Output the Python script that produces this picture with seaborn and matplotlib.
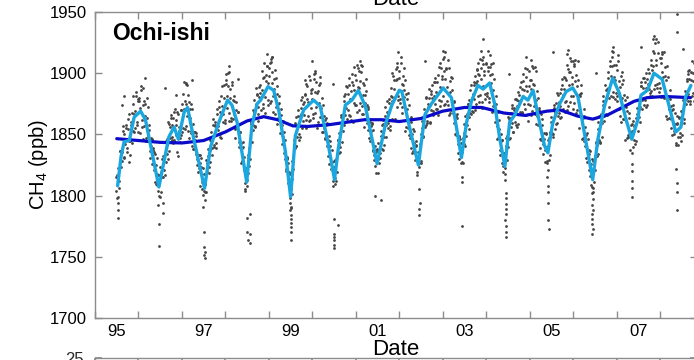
import numpy as np
import pandas as pd
import matplotlib
matplotlib.use("Agg")
import matplotlib.pyplot as plt
import seaborn as sns

sns.set_theme(style="ticks")
plt.rcParams['font.family'] = ['Liberation Sans', 'DejaVu Sans']
plt.rcParams['mathtext.fontset'] = 'custom'
plt.rcParams['mathtext.rm'] = 'Liberation Sans'
plt.rcParams['mathtext.it'] = 'Liberation Sans:italic'

# ---------------- data ----------------
site_name = "Ochi-ishi"
x_label = "Date"
y_label = "CH$_4$ (ppb)"
year_ticks = list(range(1995, 2009))
label_pos = [1995.5, 1997.5, 1999.5, 2001.5, 2003.5, 2005.5, 2007.5]
label_txt = ["95", "97", "99", "01", "03", "05", "07"]
y_ticks = [1700, 1750, 1800, 1850, 1900, 1950]

# seasonal fit (light blue)
fit_t = [1995.52, 1995.60, 1995.67, 1995.79, 1995.90, 1996.05, 1996.16, 1996.28, 1996.47,
         1996.60, 1996.70, 1996.82, 1996.92, 1997.05, 1997.13, 1997.28, 1997.52, 1997.66,
         1997.85, 1998.05, 1998.15, 1998.27, 1998.49, 1998.61, 1998.73, 1998.81, 1998.98,
         1999.11, 1999.23, 1999.38, 1999.50, 1999.61, 1999.80, 2000.03, 2000.18, 2000.34,
         2000.51, 2000.60, 2000.76, 2000.91, 2001.06, 2001.22, 2001.37, 2001.49, 2001.68,
         2001.83, 2002.00, 2002.06, 2002.21, 2002.44, 2002.59, 2002.74, 2003.01, 2003.20,
         2003.32, 2003.43, 2003.55, 2003.66, 2003.81, 2003.93, 2004.08, 2004.20, 2004.31,
         2004.43, 2004.54, 2004.66, 2004.85, 2004.96, 2005.08, 2005.19, 2005.34, 2005.42,
         2005.53, 2005.69, 2005.84, 2005.99, 2006.11, 2006.26, 2006.45, 2006.57, 2006.72,
         2006.91, 2007.06, 2007.22, 2007.35, 2007.49, 2007.56, 2007.71, 2007.86, 2008.05,
         2008.21, 2008.36, 2008.48, 2008.59, 2008.71]
fit_v = [1808, 1832, 1844, 1845, 1864, 1869, 1862, 1841, 1807,
         1830, 1848, 1856, 1846, 1868, 1872, 1845, 1806, 1840,
         1860, 1878, 1874, 1860, 1811, 1857, 1875, 1878, 1889,
         1886, 1869, 1836, 1799, 1849, 1870, 1878, 1873, 1847,
         1813, 1839, 1874, 1878, 1886, 1873, 1847, 1826, 1858,
         1874, 1886, 1885, 1860, 1825, 1866, 1875, 1888, 1880,
         1855, 1831, 1860, 1877, 1890, 1887, 1892, 1874, 1847,
         1824, 1860, 1866, 1881, 1878, 1886, 1866, 1841, 1835,
         1859, 1875, 1885, 1888, 1881, 1851, 1813, 1846, 1873,
         1896, 1884, 1862, 1846, 1862, 1882, 1886, 1900, 1895,
         1873, 1852, 1856, 1881, 1890]

# long-term trend (dark blue)
trend_t = [1995.50, 1996.00, 1996.50, 1997.00, 1997.50, 1998.00, 1998.50, 1998.88, 1999.20,
           1999.55, 1999.90, 2000.40, 2000.80, 2001.20, 2001.60, 2002.00, 2002.50, 2003.00,
           2003.50, 2003.90, 2004.40, 2004.90, 2005.40, 2005.70, 2006.10, 2006.45, 2006.80,
           2007.10, 2007.40, 2007.70, 2008.10, 2008.70]
trend_v = [1846.5, 1845, 1843.5, 1843, 1845, 1852, 1861, 1864.5, 1862,
           1857, 1856.5, 1858, 1860, 1862, 1862, 1860.5, 1863, 1869,
           1872, 1872, 1867.5, 1865.5, 1869, 1870, 1865, 1862.5, 1866,
           1871.5, 1877, 1880, 1881, 1880]

# observations: first/last sample time and residuals from the fit, per year (two samplings)
obs_first, obs_last = 1995.48, 2008.80
obs_years = list(range(1995, 2009))
res_1995 = [-4, 9, -13, 3, 12, -7, 1, 15, -11, 6, -2, 11, -9, 18, 0, -14, 7, 13, -5, 20, -12, 4, 16, -9, 10]
res_1996 = [12, -17, 21, -6, 8, -19, 14, 3, -12, 24, -4, 10, -8, 6, -11, 4, 9, -5, 12, -9, 3,
            -7, 10, -12, 5, -3, 8, -10, 2, 11, -9, 6, -14, 11, -2, 15, -7, 4, -12, 13,
            -10, 6, 19, -15, 9, -4, 16, -8]
res_1997 = [-9, 18, 3, -15, 22, -6, 11, -20, 7, 15, -3, -12, 10, -7, 4, 13, -10, 2, -5, 9, -13,
            6, -9, 12, -4, 1, -11, 8, 14, -6, 3, -12, 10, -5, 16, -9, 7, -14, 12, 0,
            18, -11, 5, -18, 23, -2, 9, -13]
res_1998 = [20, -5, 12, -16, 25, 4, -11, 17, -8, 9, -19, 13, -6, 11, -9, 3, 8, -12, 5, 10, -4,
            -10, 7, -3, 12, -8, 4, -13, 9, 1, -7, 14, -11, 5, 10, -3, -15, 12, 6, -9,
            22, -7, 14, -17, 8, 19, -10, 3]
res_1999 = [16, -12, 24, 5, -18, 10, 20, -7, 13, -15, 4, 9, -11, 8, -4, 12, -9, 6, -13, 3, 10,
            -5, 11, -8, 2, -12, 7, 13, -3, -9, 12, -6, 9, -13, 4, 15, -10, 7, -4, 11,
            -16, 19, 6, -9, 23, -13, 10, 2]
res_2000 = [-14, 21, 7, -9, 17, -20, 11, 2, 24, -6, 13, -11, 5, -10, 9, 14, -6, 3, -12, 7, -2,
            12, -9, 6, -4, 10, -13, 3, 8, -7, -11, 13, 4, -8, 16, -12, 9, -3, 14, -6,
            20, -12, 8, 15, -19, 6, 24, -8]
res_2001 = [11, -16, 19, 3, -8, 25, -13, 14, 6, -19, 9, 16, -7, 10, -12, 5, 1, 11, -8, 13, -4,
            -9, 6, 12, -11, 3, -6, 9, 14, -10, 8, -13, 15, -2, 6, -9, 12, -15, 10, 4,
            -12, 21, 9, -17, 14, 26, -6, 11]
res_2002 = [-10, 23, 6, -15, 18, 10, -20, 14, -4, 22, -9, 7, 12, -10, 4, -6, 13, -2, 8, -11, 5,
            -4, 9, -12, 6, 11, -7, 2, -10, 13, -8, 5, 16, -12, 9, -5, 14, -11, 3, 17,
            -9, 12, -16, 22, 5, -12, 18, 8]
res_2003 = [24, -13, 9, 18, -7, 27, -17, 12, 4, -10, 20, -4, 9, -13, 6, 12, -8, 3, -11, 10, -5,
            -8, 7, 13, -10, 4, -3, 11, -12, 8, -6, 14, -9, 3, 11, -14, 6, 16, -8, 10,
            -13, 23, 7, -16, 26, 11, -9, 19]
res_2004 = [-8, 15, 27, -12, 9, 21, -15, 6, 18, -5, 12, -18, 10, -7, 13, -11, 4, 9, -13, 6, -2,
            11, -8, 5, 14, -11, 3, -6, 9, -12, 7, 13, -10, 4, -15, 12, 8, -7, 16, -11,
            19, -6, 24, -14, 11, 7, -18, 22]
res_2005 = [13, -17, 22, 6, -10, 25, 2, -14, 17, -7, 10, -19, -9, 12, -5, 7, -13, 11, 2, -8, 9,
            -12, 6, 10, -4, -9, 13, 5, -11, 8, 14, -7, 3, -12, 10, 17, -9, 6, -14, 12,
            -8, 21, -13, 15, 26, -6, 9, -17]
res_2006 = [19, -10, 26, -16, 8, 14, -21, 11, 23, -4, -12, 16, -6, 9, -12, 13, -3, 7, -10, 4, 12,
            -7, 10, -13, 3, 8, -9, 14, -5, -11, 9, -14, 12, 5, -8, 15, -11, 7, 18, -6,
            22, -9, 13, -15, 27, 4, -12, 17]
res_2007 = [-11, 24, 9, -17, 18, 3, 27, -8, 14, -20, 10, 21, -9, 13, -4, 8, -12, 5, 11, -7, -13,
            6, 12, -9, 3, -14, 10, 7, -5, 13, -10, 8, 15, -12, 4, 11, -7, 18, -9, 6,
            20, -13, 25, 8, -10, 28, -5, 16]
res_2008 = [12, -15, 23, 5, -9, 19, -18, 26, 3, -11, 15, -6, 8, -13, 11, -4, 14, -9, 6, -12, 10,
            -7, 13, -10, 4, 9, -14, 7, -3, 12, -8, 16, -11, 5, 20, -6, 10, -13]

res2_1995 = [7, -10, 14, -3, -15, 9, 4, -8, 17, -12, 2, 13, -6, 10, -17, 21, -4, 8, -13, 15, 3, -9, 19, -6, 12]
res2_1996 = [-15, 9, 3, 18, -11, 22, -7, 12, -16, 6, 19, -2, 7, -12, 2, 11, -6, 8, -13, 5, 14,
             -4, 8, -9, 11, -13, 4, 9, -6, -14, 10, 3, -8, 14, -12, 6, 12, -5, 9, -10,
             16, -3, 11, -13, 20, 4, -9, 14]
res2_1997 = [15, -8, 26, 9, -13, 4, 19, -16, 11, 2, -7, 17, -12, 5, 9, -6, 12, -3, -10, 7, 4,
             11, -5, -12, 8, 3, -8, 13, -2, 6, -13, 9, 2, -10, 13, -6, 11, 5, -11, 15,
             -5, 12, -14, 17, 7, -8, 21, 1]
res2_1998 = [-12, 16, 4, 23, -9, 11, -14, 19, 6, -3, 14, -10, 8, -4, 13, -11, 6, 2, -8, 12, -6,
             9, -13, 5, -2, 10, -7, 6, 12, -11, 11, -5, 3, -12, 16, 7, -9, 4, 13, -14,
             7, 15, -11, 25, -4, 12, 18, -15]
res2_1999 = [9, 20, -10, 14, 27, -5, 3, -14, 18, 8, -9, 12, -4, 11, -13, 7, 2, 10, -7, -11, 5,
             8, -3, 12, -9, 5, 10, -6, 4, 13, -10, 5, 15, -7, -12, 9, 2, 14, -8, 6,
             12, -10, 17, 3, -13, 20, 8, -5]
res2_2000 = [10, -11, 18, 25, -4, 8, -15, 16, -9, 20, 3, -13, 12, -3, -8, 6, 11, -12, 9, -4, 13,
             -6, 4, -11, 13, -2, 8, -9, 11, 2, 7, -9, 12, -14, 3, 10, -6, 15, -12, 8,
             -10, 14, 2, -16, 21, 11, -5, 17]
res2_2001 = [-9, 23, 4, 16, -14, 11, 20, -6, -11, 15, 2, 24, 6, -11, 10, 3, -9, 7, 12, -5, -10,
             5, -13, 9, 2, 12, -8, -3, 11, -7, 13, -4, 9, -11, 2, 14, -6, 8, -13, 16,
             6, -14, 17, 2, 23, -9, 12, -3]
res2_2002 = [16, -7, 28, -12, 9, 3, 20, -15, 12, 7, -5, 17, -7, 9, -13, 10, 2, -9, 6, 13, -12,
             10, -3, 4, -13, 8, -5, 12, 3, -9, 12, -10, 2, 8, -14, 11, 4, -7, 15, -4,
             13, 4, -11, 16, -5, 24, -8, 11]
res2_2003 = [-6, 14, 31, -11, 19, 5, -9, 22, -14, 16, 8, -2, -10, 12, 3, -7, 11, -13, 6, -2, 9,
             3, -11, 8, -6, 12, -9, 5, 10, -4, 15, -8, 2, -11, 9, -4, 13, -12, 5, 18,
             9, -7, 16, -11, 20, 2, 14, -6]
res2_2004 = [18, -6, 11, -15, 23, 4, 14, -9, 29, -3, -12, 8, -5, 12, 3, -9, 8, -12, 11, -6, 3,
             -9, 14, 2, -7, 9, -13, 6, 12, -4, -12, 5, -6, 11, 8, -13, 4, 14, -9, 9,
             -11, 13, 6, -9, 18, 25, -3, 10]
res2_2005 = [-7, 12, 4, -16, 19, 9, -11, 28, -5, 13, 7, -13, 11, -6, 9, -12, 4, -3, 13, -10, 5,
             8, -10, 3, 12, -6, -12, 9, 2, -8, -9, 12, -5, 9, -3, -13, 11, 2, 15, -7,
             10, -15, 18, 4, -10, 14, 23, 3]
res2_2006 = [-6, 21, 9, 15, -13, 29, 4, -9, 12, 18, -15, 6, 12, -8, 5, -13, 10, 2, -7, 13, -11,
             4, -12, 8, -6, 11, 3, -10, 6, 13, -12, 5, -4, 14, -10, 3, 10, -13, 6, 12,
             -14, 17, 6, 24, -11, 13, 2, -7]
res2_2007 = [14, -6, 29, -13, 8, -18, 16, 22, -7, 12, -3, -14, 11, -6, 10, -13, 3, 12, -9, 6, 4,
             -11, 8, 2, 13, -7, -4, 11, -12, 5, 12, -6, 3, -13, 9, 16, -3, -10, 13, -14,
             8, 17, -9, 29, 12, -7, 19, -12]
res2_2008 = [-8, 17, 6, -13, 27, 10, -5, 13, -16, 21, -2, 9, -12, 6, 13, -8, 3, -11, 12, 5, -6,
             9, -4, -12, 7, 14, -9, 4, -6, 11, 15, -3, 8, -14, 11, -9, 4, 18]

obs_resid = [res_1995, res_1996, res_1997, res_1998, res_1999, res_2000, res_2001,
             res_2002, res_2003, res_2004, res_2005, res_2006, res_2007, res_2008]
obs_resid2 = [res2_1995, res2_1996, res2_1997, res2_1998, res2_1999, res2_2000, res2_2001,
              res2_2002, res2_2003, res2_2004, res2_2005, res2_2006, res2_2007, res2_2008]

# isolated observations far from the fit (read individually)
out_t = [1995.53, 1995.53, 1995.53, 1996.47, 1996.47, 1996.57, 1996.45, 1996.57,
         1997.51, 1997.51, 1997.52, 1997.51, 1997.52, 1997.49, 1997.53,
         1998.50, 1998.50, 1998.51, 1998.56, 1998.56, 1998.56, 1998.46,
         1999.48, 1999.49, 1999.50, 1999.49, 1999.51, 1999.50, 1999.52, 1999.50, 1999.51, 1999.50,
         2000.49, 2000.49, 2000.50, 2000.49, 2000.50, 2000.49, 2000.60, 2001.45, 2001.58,
         2002.46, 2002.47, 2002.45, 2002.46, 2003.44, 2003.45, 2003.44,
         2004.44, 2004.46, 2004.45, 2004.45, 2004.46, 2004.45, 2004.44, 2004.45, 2004.46, 2004.45,
         2005.42, 2005.41, 2005.43, 2005.42, 2005.43, 2005.43, 2005.44,
         2006.44, 2006.43, 2006.45, 2006.44, 2006.45, 2006.44, 2006.43, 2006.44, 2006.45, 2006.44,
         2007.35, 2007.36, 2007.35, 2007.36, 2007.35, 2008.36, 2008.40, 2008.40, 2008.40,
         1995.63, 1995.67, 1996.15, 1996.61, 1996.86, 1997.10, 1997.24, 1998.02, 1998.08, 1998.30,
         1998.96, 1999.05, 1999.07, 1999.84, 1999.99, 2000.07, 2000.47, 2001.10, 2001.14, 2001.83,
         2001.94, 2001.98, 2002.10, 2002.59, 2003.01, 2003.03, 2003.80, 2003.88, 2003.90, 2003.93,
         2004.08, 2004.52, 2004.92, 2005.03, 2005.53, 2005.88, 2005.86, 2005.99, 2006.53, 2006.89,
         2006.91, 2007.56, 2007.84, 2007.87, 2008.05, 2008.40, 2008.40, 2008.52, 2008.64]
out_v = [1794, 1788, 1782, 1777, 1759, 1786, 1792, 1794,
         1770, 1758, 1754, 1751.5, 1749, 1791, 1796,
         1782, 1770, 1764, 1761, 1769, 1785, 1804,
         1804, 1798, 1791, 1788, 1784, 1781, 1778, 1774, 1770, 1764,
         1781, 1769, 1766, 1764, 1760, 1757, 1776, 1800, 1796,
         1805, 1794, 1789, 1784, 1815, 1811, 1775,
         1813, 1802, 1798, 1793, 1789, 1785, 1780, 1775, 1770, 1766,
         1821, 1815, 1808, 1803, 1794, 1780, 1773,
         1807, 1802, 1797, 1792, 1788, 1785, 1781, 1777, 1773, 1769,
         1826, 1820, 1812, 1806, 1799, 1822, 1810, 1803, 1788,
         1874, 1881, 1896, 1888, 1882, 1891, 1894.5, 1899, 1906, 1895,
         1916, 1909, 1913, 1894.5, 1909.6, 1900, 1891, 1910, 1906, 1900,
         1905, 1917.6, 1904.6, 1910, 1918, 1913.5, 1903, 1918, 1911, 1928,
         1905, 1899, 1913.5, 1911, 1917.6, 1919, 1916, 1910, 1900, 1913,
         1917.6, 1921.7, 1927.7, 1930, 1916, 1948.4, 1933.4, 1920, 1902]

# ---------------- build tables ----------------
obs_tt, obs_vv = [], []
for resid_set, phase in ((obs_resid, 0.5), (obs_resid2, 0.0)):
    for yr, res in zip(obs_years, resid_set):
        lo, hi = max(yr, obs_first), min(yr + 1, obs_last)
        tt = lo + (np.arange(len(res)) + phase) * (hi - lo) / len(res)
        obs_tt.extend(tt)
        obs_vv.extend(np.interp(tt, fit_t, fit_v) + np.array(res))
obs_tt.extend(out_t)
obs_vv.extend(out_v)
obs = pd.DataFrame({"t": obs_tt, "v": obs_vv})
fit = pd.DataFrame({"t": fit_t, "v": fit_v})
trend = pd.DataFrame({"t": trend_t, "v": trend_v})

# ---------------- figure ----------------
W, H = 694, 360
fig = plt.figure(figsize=(W / 100, H / 100), dpi=100)
L, R, B, T = 95, 697, 318, 12
ax = fig.add_axes([L / W, 1 - B / H, (R - L) / W, (B - T) / H])

sns.scatterplot(data=obs, x="t", y="v", ax=ax, s=4, marker="o", color="#454545",
                linewidth=0, zorder=2)
sns.lineplot(data=trend, x="t", y="v", ax=ax, color="#0a0ac8", lw=2.3, sort=False,
             estimator=None, zorder=3, solid_joinstyle="round")
sns.lineplot(data=fit, x="t", y="v", ax=ax, color="#1aa7e0", lw=2.4, sort=False,
             estimator=None, zorder=4, solid_joinstyle="round")

ax.set_xlim(1995.0, 2008.85)
ax.set_ylim(1700, 1950)
spine_col = "#8c8c8c"
for s in ax.spines.values():
    s.set_color(spine_col)
    s.set_linewidth(1.0)
ax.set_yticks(y_ticks)
ax.set_yticklabels([str(v) for v in y_ticks])
ax.set_xticks(year_ticks)
ax.set_xticklabels([""] * len(year_ticks))
ax.set_xticks(label_pos, minor=True)
ax.set_xticklabels(label_txt, minor=True)
ax.tick_params(axis="both", which="major", direction="in", length=5, width=1,
               color=spine_col, top=True, right=True, labelsize=12, labelcolor="black")
ax.tick_params(axis="y", which="major", pad=6)
ax.tick_params(axis="x", which="minor", length=0, pad=4, labelsize=12, labelcolor="black")
ax.set_xlabel(x_label, fontsize=16, labelpad=0, color="black")
ax.set_ylabel(y_label, fontsize=14.5, labelpad=0, color="black")
ax.text(0.028, 0.93, site_name, transform=ax.transAxes, fontsize=16.5, fontweight="bold",
        ha="left", va="center", color="black")

# neighbouring panels, cut by the figure border (as in the reference)
fig.text(0.57, 1 - 5 / H, "Date", fontsize=16, ha="center", va="baseline", color="black")
ax2 = fig.add_axes([L / W, -0.5, (R - L) / W, 0.5 + 1 - 358 / H])
ax2.set_xlim(1995.0, 2008.85)
ax2.set_ylim(0, 25)
ax2.set_yticks([25])
ax2.set_yticklabels(["25"])
ax2.set_xticks(year_ticks)
ax2.set_xticklabels([])
for s in ax2.spines.values():
    s.set_color(spine_col)
    s.set_linewidth(1.0)
ax2.tick_params(axis="both", direction="in", length=5, color=spine_col, top=True,
                right=True, labelsize=12, pad=8)

fig.savefig("out.png", dpi=100)
